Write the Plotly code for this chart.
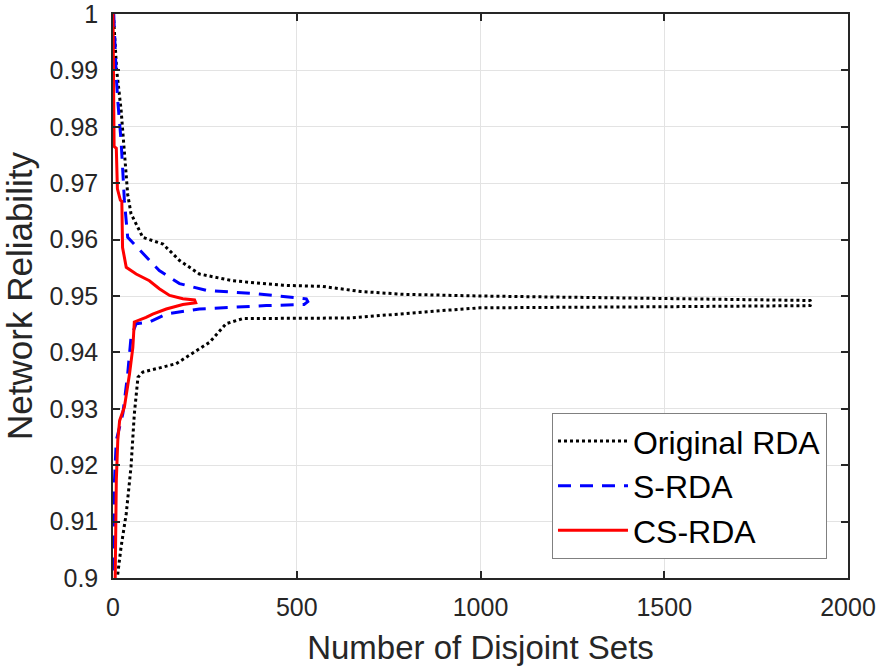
import plotly.graph_objects as go

# ---- data (upper bound followed by lower bound, reversed) ----
orig_x = [1, 10, 22, 31, 40, 49, 81, 136, 181, 235, 326, 462, 570, 674, 789, 998, 1500, 1897,
          1900,
          1897, 1500, 998, 914, 860, 789, 700, 643, 353, 308, 263, 208, 172, 81, 68, 58, 49, 36, 22, 12]
orig_y = [1.0, 0.990, 0.983, 0.976, 0.968, 0.9646, 0.9604, 0.9592, 0.9563, 0.9539, 0.9527, 0.9519,
          0.9517, 0.9508, 0.9503, 0.9500, 0.9495, 0.9492,
          0.9488,
          0.9483, 0.9481, 0.9479, 0.9475, 0.9472, 0.9468, 0.9463, 0.9461, 0.9460, 0.9451, 0.9418,
          0.9395, 0.9380, 0.9365, 0.9356, 0.9291, 0.9197, 0.9114, 0.9055, 0.9002]

srda_x = [2, 6, 9, 13, 22, 27, 31, 40, 81, 126, 181, 254, 390, 489, 526,
          530,
          520, 417, 235, 145, 99, 63, 49, 40, 27, 9, 4, 2]
srda_y = [1.0, 0.993, 0.9888, 0.9846, 0.9775, 0.9717, 0.9669, 0.9604, 0.9575, 0.9545, 0.9522,
          0.9510, 0.9504, 0.9498, 0.9495,
          0.9490,
          0.9485, 0.9483, 0.9477, 0.9468, 0.9454, 0.9451, 0.9427, 0.9362, 0.9292, 0.9244, 0.9173,
          0.900]

csrda_x = [0, 3, 9, 12, 20, 24, 26, 36, 63, 99, 126, 154, 190, 222,
           225,
           190, 145, 108, 90, 58, 54, 45, 31, 18, 13, 9, 6]
csrda_y = [1.0, 0.9765, 0.9762, 0.969, 0.967, 0.9668, 0.9586, 0.9551, 0.9539, 0.9527, 0.9513,
           0.9501, 0.9495, 0.9493,
           0.9488,
           0.9485, 0.9477, 0.9468, 0.9462, 0.9454, 0.9409, 0.9362, 0.9303, 0.9279, 0.9244,
           0.9173, 0.900]

series_names = ["Original RDA", "S-RDA", "CS-RDA"]

x_tickvals = [0, 500, 1000, 1500, 2000]
x_ticktext = ["0", "500", "1000", "1500", "2000"]
y_tickvals = [0.90, 0.91, 0.92, 0.93, 0.94, 0.95, 0.96, 0.97, 0.98, 0.99, 1.00]
y_ticktext = ["0.9", "0.91", "0.92", "0.93", "0.94", "0.95", "0.96", "0.97", "0.98", "0.99", "1"]

FONT = "Liberation Sans, Arial, sans-serif"
AX = "#262626"

fig = go.Figure()
fig.add_trace(go.Scatter(x=orig_x, y=orig_y, mode="lines", name=series_names[0],
                         line=dict(color="black", width=3, dash="dot")))
fig.add_trace(go.Scatter(x=srda_x, y=srda_y, mode="lines", name=series_names[1],
                         line=dict(color="#0000ff", width=3, dash="13px,9px")))
fig.add_trace(go.Scatter(x=csrda_x, y=csrda_y, mode="lines", name=series_names[2],
                         line=dict(color="#ff0000", width=3)))

axis_common = dict(
    showgrid=True, gridcolor="#e3e3e3", gridwidth=1,
    showline=True, linecolor=AX, linewidth=1.5, mirror="ticks",
    ticks="inside", ticklen=7, tickwidth=1.5, tickcolor=AX,
    zeroline=False, ticklabeloverflow="allow",
    tickfont=dict(family=FONT, size=25, color=AX),
)

fig.update_xaxes(range=[0, 2000], tickvals=x_tickvals, ticktext=x_ticktext,
                 ticklabelstandoff=6, automargin=False,
                 title=dict(text="Number of Disjoint Sets", font=dict(family=FONT, size=33, color=AX),
                            standoff=16),
                 **axis_common)
fig.update_yaxes(range=[0.9, 1.0], tickvals=y_tickvals, ticktext=y_ticktext,
                 ticklabelstandoff=8, automargin="left",
                 title=dict(text="Network Reliability", font=dict(family=FONT, size=35, color=AX),
                            standoff=8),
                 **axis_common)

fig.update_layout(
    width=879, height=671,
    margin=dict(l=113, r=31, t=14, b=93),
    paper_bgcolor="white", plot_bgcolor="white",
    showlegend=True,
    legend=dict(
        x=0.9714, y=0.034, xanchor="right", yanchor="bottom",
        bgcolor="white", bordercolor="#808080", borderwidth=1,
        font=dict(family=FONT, size=32, color="black"),
        itemwidth=70, tracegroupgap=0,
    ),
)

fig.write_html("out.html")
